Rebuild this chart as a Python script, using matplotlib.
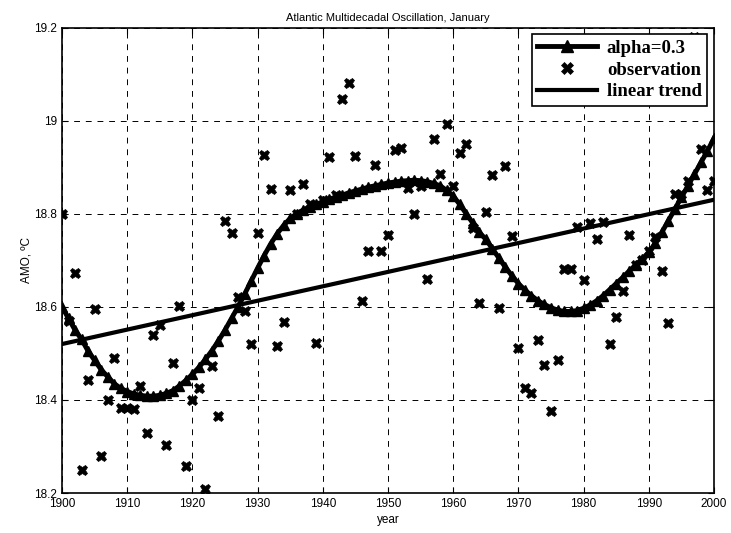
import matplotlib
matplotlib.use("Agg")
import matplotlib.pyplot as plt
import numpy as np

years = list(range(1900, 2001))

# smoothed curve (alpha=0.3), one value per year 1900..2000
smooth = [
    18.600, 18.575, 18.550, 18.530, 18.505, 18.485, 18.465, 18.450, 18.435, 18.425,  # 1900-1909
    18.418, 18.413, 18.410, 18.408, 18.408, 18.410, 18.414, 18.420, 18.430, 18.442,  # 1910-1919
    18.455, 18.470, 18.487, 18.506, 18.527, 18.550, 18.575, 18.600, 18.627, 18.655,  # 1920-1929
    18.683, 18.710, 18.735, 18.757, 18.775, 18.790, 18.800, 18.808, 18.815, 18.820,  # 1930-1939
    18.826, 18.831, 18.836, 18.840, 18.845, 18.849, 18.853, 18.857, 18.860, 18.863,  # 1940-1949
    18.866, 18.868, 18.870, 18.871, 18.872, 18.871, 18.869, 18.865, 18.860, 18.850,  # 1950-1959
    18.838, 18.820, 18.800, 18.780, 18.760, 18.745, 18.725, 18.705, 18.685, 18.667,  # 1960-1969
    18.650, 18.636, 18.624, 18.613, 18.605, 18.598, 18.593, 18.590, 18.590, 18.592,  # 1970-1979
    18.597, 18.604, 18.613, 18.624, 18.637, 18.650, 18.663, 18.677, 18.690, 18.703,  # 1980-1989
    18.717, 18.737, 18.760, 18.785, 18.810, 18.835, 18.860, 18.885, 18.910, 18.935,  # 1990-1999
    18.962,                                                                          # 2000
]

# observations, one value per year 1900..2000
observation = [
    18.800, 18.570, 18.673, 18.250, 18.443, 18.595, 18.280, 18.400, 18.490, 18.383,  # 1900-1909
    18.383, 18.380, 18.430, 18.328, 18.540, 18.560, 18.303, 18.480, 18.602, 18.258,  # 1910-1919
    18.400, 18.425, 18.208, 18.473, 18.365, 18.785, 18.758, 18.620, 18.590, 18.520,  # 1920-1929
    18.758, 18.926, 18.853, 18.515, 18.567, 18.851, 18.800, 18.864, 18.820, 18.523,  # 1930-1939
    18.830, 18.921, 18.840, 19.046, 19.081, 18.925, 18.613, 18.720, 18.905, 18.720,  # 1940-1949
    18.755, 18.937, 18.941, 18.855, 18.800, 18.860, 18.659, 18.960, 18.886, 18.992,  # 1950-1959
    18.860, 18.931, 18.950, 18.770, 18.609, 18.803, 18.883, 18.597, 18.903, 18.753,  # 1960-1969
    18.512, 18.426, 18.415, 18.529, 18.475, 18.377, 18.486, 18.682, 18.682, 18.772,  # 1970-1979
    18.657, 18.780, 18.745, 18.783, 18.520, 18.579, 18.635, 18.755, 18.690, 18.700,  # 1980-1989
    18.720, 18.750, 18.677, 18.565, 18.842, 18.842, 18.870, 19.180, 18.940, 18.850,  # 1990-1999
    18.870,                                                                          # 2000
]

trend_years = [1900, 2000]
trend_values = [18.52, 18.83]

title = "Atlantic Multidecadal Oscillation, January"
xticks = [1900, 1910, 1920, 1930, 1940, 1950, 1960, 1970, 1980, 1990, 2000]
yticks = [18.2, 18.4, 18.6, 18.8, 19.0, 19.2]
ytick_labels = ["18.2", "18.4", "18.6", "18.8", "19", "19.2"]

plt.rcParams['font.family'] = ['Liberation Sans', 'DejaVu Sans']

fig = plt.figure(figsize=(7.31, 5.33), dpi=100)
ax = fig.add_axes([62/731, 40/533, (714-62)/731, (493-27.5)/533])

ax.plot(years, smooth, color='black', lw=3.5, marker='^', markersize=7.5,
        markerfacecolor='black', markeredgecolor='black', label='alpha=0.3', zorder=3)
ax.plot(years, observation, linestyle='none', marker='X', markersize=7.5,
        color='black', markeredgewidth=0.5, label='observation', zorder=4)
ax.plot(trend_years, trend_values, color='black', lw=3, label='linear trend', zorder=3)

ax.set_xlim(1900, 2000)
ax.set_ylim(18.2, 19.2)
ax.set_xticks(xticks)
ax.set_yticks(yticks)
ax.set_yticklabels(ytick_labels)
ax.tick_params(direction='in', length=4, labelsize=8.5, top=True, right=True, width=0.8)
ax.grid(True, color='black', linestyle=(0, (6, 6)), linewidth=0.7)
for s in ax.spines.values():
    s.set_linewidth(1.2)

ax.set_title(title, fontsize=8, pad=5)
ax.set_xlabel('year', fontsize=8.5, labelpad=3)
ax.set_ylabel('AMO, \u00baC', fontsize=8.5, labelpad=1)

leg = ax.legend(loc='upper right', prop={'family': 'Liberation Serif', 'weight': 'bold', 'size': 13.5},
                fancybox=False, framealpha=1, edgecolor='black', borderaxespad=0.35,
                handlelength=3.2, labelspacing=0.25, borderpad=0.3, handletextpad=0.5,
                markerscale=1.2)
leg.get_frame().set_linewidth(1.2)
leg.set_zorder(10)

fig.savefig('out.png', dpi=100)
